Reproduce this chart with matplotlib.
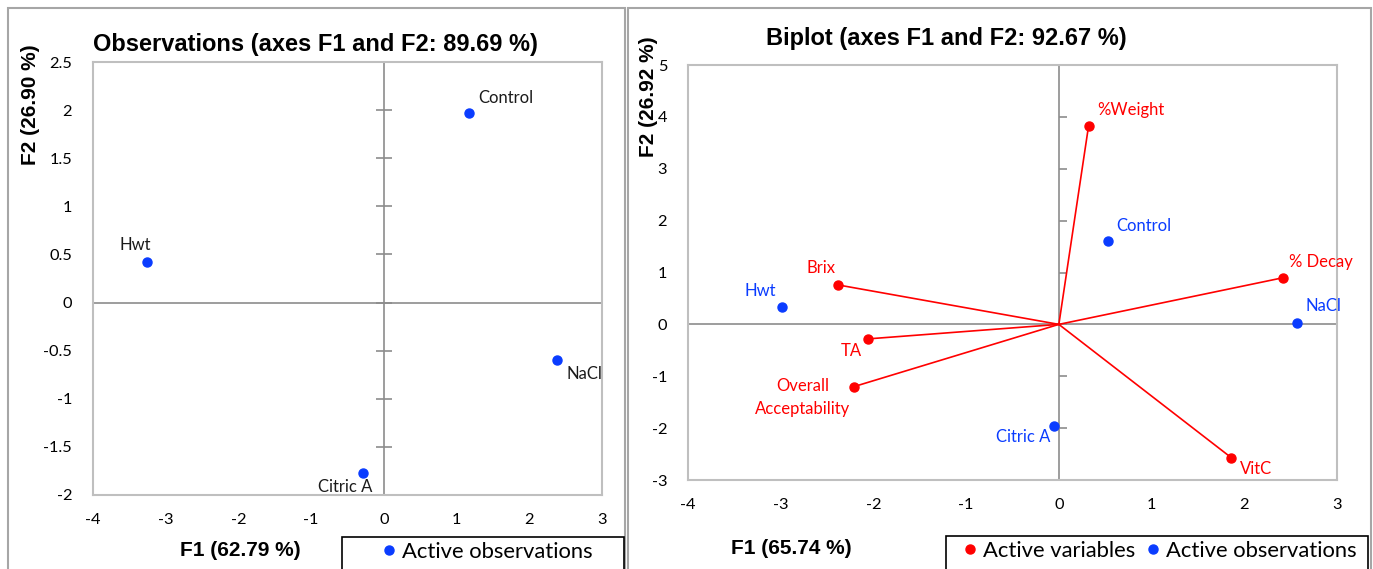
import matplotlib.pyplot as plt
from matplotlib.lines import Line2D
from matplotlib.patches import Rectangle

# observations chart (F1 62.79 %, F2 26.90 %)
obs_names = ['Control', 'Hwt', 'NaCl', 'Citric A']
obs_f1 = [1.17, -3.26, 2.38, -0.29]
obs_f2 = [1.97, 0.42, -0.60, -1.77]

# biplot (F1 65.74 %, F2 26.92 %)
bi_obs_names = ['Control', 'Hwt', 'NaCl', 'Citric A']
bi_obs_f1 = [0.53, -2.99, 2.57, -0.05]
bi_obs_f2 = [1.61, 0.34, 0.03, -1.96]

var_names = ['%Weight', '% Decay', 'Brix', 'TA', 'Overall\nAcceptability', 'VitC']
var_f1 = [0.32, 2.42, -2.38, -2.06, -2.21, 1.86]
var_f2 = [3.82, 0.90, 0.76, -0.28, -1.20, -2.57]

BLUE = '#0a3cff'
RED = '#ff0000'
GRID = '#8c8c8c'
FRAME = '#bfbfbf'
TICKFONT = 'Lato'
BOLDFONT = 'Liberation Sans'
LABSIZE = 12

W, H = 1373, 569
fig = plt.figure(figsize=(W / 100, H / 100), dpi=100)


def px(x0, y0, w, h):
    # pixel box (top-left origin) -> figure fraction
    return [x0 / W, 1 - (y0 + h) / H, w / W, h / H]


def style_axes(ax, xlim, ylim, xticks, yticks, ytick_dir):
    ax.set_xlim(*xlim)
    ax.set_ylim(*ylim)
    ax.set_xticks(xticks)
    ax.set_yticks(yticks)
    ax.set_xticklabels([f'{t:g}' for t in xticks])
    ax.set_yticklabels([f'{t:g}' for t in yticks])
    for s in ax.spines.values():
        s.set_color(FRAME)
        s.set_linewidth(1.5)
    ax.tick_params(length=0, labelsize=11.8, pad=13)
    ax.tick_params(axis='y', pad=15)
    for lab in ax.get_xticklabels() + ax.get_yticklabels():
        lab.set_fontfamily(TICKFONT)
    ax.axhline(0, color=GRID, lw=1.2, zorder=1)
    # vertical zero line carrying the tick marks
    frac = (0 - xlim[0]) / (xlim[1] - xlim[0])
    sec = ax.secondary_yaxis(frac)
    sec.set_yticks(yticks)
    sec.set_yticklabels([])
    for s in sec.spines.values():
        s.set_color(GRID)
        s.set_linewidth(1.2)
    sec.tick_params(direction=ytick_dir, length=6 if ytick_dir == 'out' else 11,
                    color=GRID, width=1.2)


# ---------------- left: observations ----------------
ax1 = fig.add_axes(px(93, 62, 509, 433))
style_axes(ax1, (-4, 3), (-2, 2.5), [-4, -3, -2, -1, 0, 1, 2, 3],
           [-2, -1.5, -1, -0.5, 0, 0.5, 1, 1.5, 2, 2.5], 'inout')
ax1.plot(obs_f1, obs_f2, 'o', color=BLUE, ms=6.5, zorder=3)
left_offsets = {'Control': (7, 11, 'left'), 'Hwt': (-8, 12, 'center'),
                'NaCl': (7, -10, 'left'), 'Citric A': (7, -10, 'right')}
for n, x, y in zip(obs_names, obs_f1, obs_f2):
    dx, dy, ha = left_offsets[n]
    ax1.annotate(n, (x, y), xytext=(dx, dy), textcoords='offset points',
                 ha=ha, va='center', fontsize=LABSIZE, family=TICKFONT, color='#1a1a1a')

fig.text(93 / W, 1 - 45 / H, 'Observations (axes F1 and F2: 89.69 %)',
         ha='left', va='center', fontsize=17, fontweight='bold', family=BOLDFONT)
fig.text(30 / W, 1 - 105 / H, 'F2 (26.90 %)', rotation=90, ha='center', va='center',
         fontsize=15, fontweight='bold', family=BOLDFONT)
fig.text(240 / W, 1 - 551 / H, 'F1 (62.79 %)', ha='center', va='center',
         fontsize=15, fontweight='bold', family=BOLDFONT)

# ---------------- right: biplot ----------------
ax2 = fig.add_axes(px(688, 65, 649, 415))
style_axes(ax2, (-4, 3), (-3, 5), [-4, -3, -2, -1, 0, 1, 2, 3],
           [-3, -2, -1, 0, 1, 2, 3, 4, 5], 'out')
for x, y in zip(var_f1, var_f2):
    ax2.plot([0, x], [0, y], color=RED, lw=1.2, zorder=2)
ax2.plot(var_f1, var_f2, 'o', color=RED, ms=6.5, zorder=3)
ax2.plot(bi_obs_f1, bi_obs_f2, 'o', color=BLUE, ms=6.5, zorder=3)

var_offsets = {'%Weight': (6, 12, 'left'), '% Decay': (4, 11, 'left'),
               'Brix': (-2, 12, 'right'), 'TA': (-4, -9, 'right'),
               'Overall\nAcceptability': (-37, -8, 'center'), 'VitC': (6, -8, 'left')}
for n, x, y in zip(var_names, var_f1, var_f2):
    dx, dy, ha = var_offsets[n]
    ax2.annotate(n, (x, y), xytext=(dx, dy), textcoords='offset points', ha=ha,
                 va='center', fontsize=LABSIZE, family=TICKFONT, color=RED,
                 linespacing=1.55)
obs_offsets = {'Control': (6, 11, 'left'), 'Hwt': (-4, 11, 'right'),
               'NaCl': (6, 12, 'left'), 'Citric A': (-3, -8, 'right')}
for n, x, y in zip(bi_obs_names, bi_obs_f1, bi_obs_f2):
    dx, dy, ha = obs_offsets[n]
    ax2.annotate(n, (x, y), xytext=(dx, dy), textcoords='offset points',
                 ha=ha, va='center', fontsize=LABSIZE, family=TICKFONT, color=BLUE)

fig.text(766 / W, 1 - 38 / H, 'Biplot (axes F1 and F2: 92.67 %)',
         ha='left', va='center', fontsize=17, fontweight='bold', family=BOLDFONT)
fig.text(648 / W, 1 - 97 / H, 'F2 (26.92 %)', rotation=90, ha='center', va='center',
         fontsize=15, fontweight='bold', family=BOLDFONT)
fig.text(791 / W, 1 - 549 / H, 'F1 (65.74 %)', ha='center', va='center',
         fontsize=15, fontweight='bold', family=BOLDFONT)

# ---------------- panel frames and legends ----------------
def fig_rect(x0, y0, x1, y1, color, lw):
    r = Rectangle((x0 / W, 1 - y1 / H), (x1 - x0) / W, (y1 - y0) / H,
                  transform=fig.transFigure, fill=False, edgecolor=color, lw=lw,
                  clip_on=False)
    fig.add_artist(r)


fig_rect(8, 8, 625, 580, '#a6a6a6', 1.5)
fig_rect(628, 8, 1371, 580, '#a6a6a6', 1.5)
fig_rect(342, 537, 624, 580, 'black', 1.2)
fig_rect(946, 536, 1368, 580, 'black', 1.2)

h_obs = Line2D([], [], ls='none', marker='o', ms=6.5, color=BLUE)
h_var = Line2D([], [], ls='none', marker='o', ms=6.5, color=RED)
fig.legend([h_obs], ['Active observations'], loc='center left',
           bbox_to_anchor=(373 / W, 1 - 552 / H), frameon=False, handlelength=0.5,
           handletextpad=0.3, prop={'family': TICKFONT, 'size': 15.8}, borderpad=0)
fig.legend([h_var, h_obs], ['Active variables', 'Active observations'], loc='center left',
           bbox_to_anchor=(954 / W, 1 - 551 / H), frameon=False, handlelength=0.5,
           handletextpad=0.3, columnspacing=0.6, ncol=2,
           prop={'family': TICKFONT, 'size': 15.8}, borderpad=0)

fig.savefig('out.png', dpi=100)
